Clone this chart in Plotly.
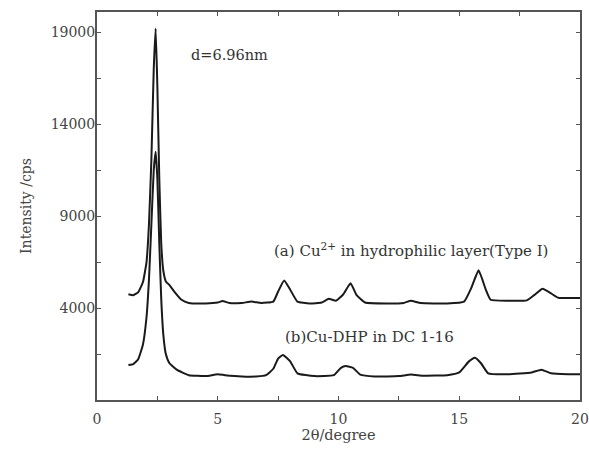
import plotly.graph_objects as go

# Curve (a): Cu2+ in hydrophilic layer (Type I)
a_x = [1.3, 1.5, 1.7, 1.9, 2.05, 2.15, 2.25, 2.35, 2.43, 2.5, 2.58, 2.66, 2.75, 2.85, 3.0, 3.2, 3.5, 3.8,
       4.5, 5.0, 5.2, 5.5, 6.0, 6.4, 6.8, 7.3, 7.5, 7.75, 8.0, 8.3, 8.8, 9.3, 9.6, 9.9, 10.2, 10.5, 10.75,
       11.1, 12.0, 12.7, 13.0, 13.4, 14.5, 15.2, 15.5, 15.8, 16.1, 16.3, 17.0, 17.8, 18.1, 18.45, 18.8, 19.1, 20.0]
a_y = [4750, 4700, 4850, 5400, 6500, 8500, 12000, 17000, 19200, 16000, 11000, 7500, 6000, 5450, 5250, 4900, 4450, 4280,
       4250, 4300, 4380, 4270, 4280, 4350, 4280, 4350, 4900, 5500, 5000, 4350, 4250, 4300, 4500, 4400, 4750, 5350, 4700,
       4300, 4250, 4280, 4400, 4270, 4250, 4350, 5100, 6050, 5000, 4450, 4400, 4420, 4700, 5050, 4800, 4560, 4550]

# Curve (b): Cu-DHP in DC 1-16
b_x = [1.3, 1.5, 1.7, 1.9, 2.05, 2.15, 2.25, 2.35, 2.43, 2.5, 2.58, 2.66, 2.75, 2.85, 3.0, 3.3, 3.8, 4.5, 5.0, 5.3,
       6.0, 6.6, 7.0, 7.3, 7.5, 7.7, 8.0, 8.3, 9.0, 9.8, 10.1, 10.3, 10.6, 10.9, 11.5, 12.5, 13.0, 13.5, 14.5, 15.0,
       15.4, 15.65, 15.9, 16.2, 17.0, 18.0, 18.4, 18.8, 19.5, 20.0]
b_y = [900, 950, 1200, 2000, 3500, 5500, 8500, 11500, 12500, 11000, 7500, 4500, 2500, 1500, 1000, 650, 350, 300, 400, 350,
       280, 280, 350, 700, 1250, 1450, 1100, 450, 300, 350, 750, 850, 750, 380, 280, 300, 380, 320, 350, 500,
       1100, 1300, 1000, 450, 400, 500, 650, 450, 400, 400]

x_ticks = [0, 5, 10, 15, 20]
y_ticks = [4000, 9000, 14000, 19000]

font_fam = "DejaVu Serif, Liberation Serif, serif"

fig = go.Figure()
fig.add_trace(go.Scatter(x=a_x, y=a_y, mode="lines", line=dict(color="#1a1a1a", width=2, shape="spline", smoothing=0.4),
                         showlegend=False))
fig.add_trace(go.Scatter(x=b_x, y=b_y, mode="lines", line=dict(color="#1a1a1a", width=2, shape="spline", smoothing=0.4),
                         showlegend=False))

fig.add_annotation(x=3.8, y=17750, text="d=6.96nm", showarrow=False, xanchor="left", yanchor="middle",
                   font=dict(size=14.5, color="#333", family=font_fam))
fig.add_annotation(x=7.25, y=7150, text="(a) Cu<sup>2+</sup> in hydrophilic layer(Type I)", showarrow=False,
                   xanchor="left", yanchor="middle", font=dict(size=15, color="#333", family=font_fam))
fig.add_annotation(x=7.7, y=2440, text="(b)Cu-DHP in DC 1-16", showarrow=False,
                   xanchor="left", yanchor="middle", font=dict(size=15, color="#333", family=font_fam))

axis_common = dict(showline=True, linecolor="#555", linewidth=2, mirror="ticks", ticks="inside",
                   tickcolor="#555", ticklen=4, tickwidth=1.2, showgrid=False, zeroline=False, automargin=False,
                   tickfont=dict(size=14, color="#444", family=font_fam))

fig.update_xaxes(range=[0, 20], tickvals=x_ticks, ticktext=[str(v) for v in x_ticks], ticklabelstandoff=5,
                 minor=dict(ticks="inside", tick0=2.5, dtick=5, ticklen=4, tickcolor="#555"),
                 title=dict(text="2θ/degree", font=dict(size=14.5, color="#444", family=font_fam), standoff=0),
                 **axis_common)
fig.update_yaxes(range=[-1000, 20100], tickvals=y_ticks, ticktext=[str(v) for v in y_ticks], ticklabelstandoff=-3,
                 minor=dict(ticks="inside", tick0=1500, dtick=5000, ticklen=4, tickcolor="#555"),
                 title=dict(text="Intensity /cps", font=dict(size=14, color="#444", family=font_fam), standoff=16),
                 **axis_common)

fig.update_layout(width=589, height=450, margin=dict(l=97, r=9, t=12, b=50),
                  paper_bgcolor="white", plot_bgcolor="white")

fig.write_html("out.html", config={"displayModeBar": False},
               post_script="document.body.style.margin='0';document.body.style.overflow='hidden';")
